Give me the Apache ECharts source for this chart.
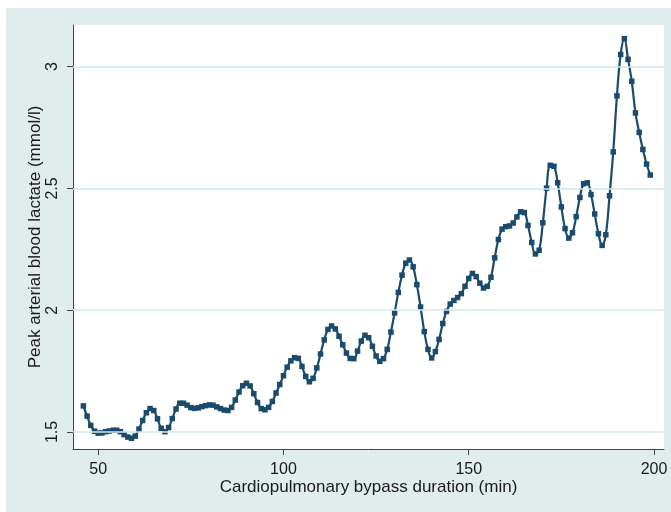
<!DOCTYPE html>
<html>
<head>
<meta charset="utf-8">
<script src="https://cdn.jsdelivr.net/npm/echarts@6/dist/echarts.min.js"></script>
<style>
  html, body { margin: 0; padding: 0; background: #ffffff; width: 671px; height: 512px; overflow: hidden; }
  #chart { position: absolute; left: 6px; top: 8px; width: 665px; height: 504px; }
</style>
</head>
<body>
<div id="chart"></div>
<script>
// Cardiopulmonary bypass duration (min)
const duration = [
  46, 47, 48, 49, 50, 51, 52, 53, 54, 55, 56, 57, 58, 59, 60, 61, 62, 63, 64, 65,
  66, 67, 68, 69, 70, 71, 72, 73, 74, 75, 76, 77, 78, 79, 80, 81, 82, 83, 84, 85,
  86, 87, 88, 89, 90, 91, 92, 93, 94, 95, 96, 97, 98, 99, 100, 101, 102, 103, 104, 105,
  106, 107, 108, 109, 110, 111, 112, 113, 114, 115, 116, 117, 118, 119, 120, 121, 122, 123, 124, 125,
  126, 127, 128, 129, 130, 131, 132, 133, 134, 135, 136, 137, 138, 139, 140, 141, 142, 143, 144, 145,
  146, 147, 148, 149, 150, 151, 152, 153, 154, 155, 156, 157, 158, 159, 160, 161, 162, 163, 164, 165,
  166, 167, 168, 169, 170, 171, 172, 173, 174, 175, 176, 177, 178, 179, 180, 181, 182, 183, 184, 185,
  186, 187, 188, 189, 190, 191, 192, 193, 194, 195, 196, 197, 198, 199
];
// Peak arterial blood lactate (mmol/l)
const lactate = [
  1.607, 1.565, 1.527, 1.503, 1.495, 1.496, 1.501, 1.504, 1.507, 1.507, 1.501, 1.489, 1.479, 1.474, 1.483, 1.512, 1.547, 1.579, 1.596, 1.588,
  1.554, 1.515, 1.501, 1.518, 1.555, 1.594, 1.618, 1.618, 1.610, 1.600, 1.597, 1.599, 1.604, 1.608, 1.611, 1.610, 1.603, 1.596, 1.590, 1.588,
  1.601, 1.631, 1.664, 1.690, 1.700, 1.689, 1.657, 1.621, 1.596, 1.591, 1.601, 1.625, 1.660, 1.695, 1.731, 1.766, 1.792, 1.805, 1.802, 1.769,
  1.728, 1.706, 1.720, 1.763, 1.820, 1.878, 1.921, 1.935, 1.923, 1.893, 1.858, 1.824, 1.802, 1.801, 1.832, 1.873, 1.897, 1.887, 1.852, 1.812,
  1.790, 1.801, 1.839, 1.910, 1.989, 2.073, 2.144, 2.193, 2.206, 2.178, 2.105, 2.013, 1.912, 1.839, 1.804, 1.830, 1.880, 1.945, 1.995, 2.025,
  2.040, 2.052, 2.068, 2.098, 2.130, 2.151, 2.138, 2.111, 2.091, 2.098, 2.135, 2.215, 2.290, 2.333, 2.343, 2.346, 2.358, 2.383, 2.404, 2.401,
  2.348, 2.278, 2.231, 2.246, 2.359, 2.501, 2.595, 2.591, 2.523, 2.424, 2.335, 2.296, 2.318, 2.384, 2.463, 2.519, 2.523, 2.475, 2.395, 2.314,
  2.266, 2.310, 2.470, 2.650, 2.880, 3.050, 3.115, 3.030, 2.940, 2.810, 2.730, 2.660, 2.600, 2.555
];
const xTicks = [50, 100, 150, 200];
const yTicks = [1.5, 2, 2.5, 3];
const xTitle = 'Cardiopulmonary bypass duration (min)';
const yTitle = 'Peak arterial blood lactate (mmol/l)';

const points = duration.map((d, i) => [d, lactate[i]]);
const FONT = '"Liberation Sans", Arial, Helvetica, sans-serif';

const chart = echarts.init(document.getElementById('chart'), null, { renderer: 'canvas' });
chart.setOption({
  backgroundColor: '#e0eded',
  animation: false,
  grid: {
    left: 67, right: 7, top: 17, bottom: 63,
    show: true, backgroundColor: '#ffffff', borderWidth: 0
  },
  xAxis: {
    type: 'value',
    min: 43.2, max: 202.7,
    name: xTitle,
    nameLocation: 'middle',
    nameGap: 30,
    nameMoveOverlap: false,
    nameTextStyle: { fontFamily: FONT, fontSize: 17, color: '#1a1a1a' },
    axisLine: { show: true, onZero: false, lineStyle: { color: '#444', width: 1 } },
    axisTick: { show: true, length: 6, lineStyle: { color: '#444' }, customValues: xTicks },
    axisLabel: { fontFamily: FONT, fontSize: 16, color: '#1a1a1a', margin: 13, customValues: xTicks },
    splitLine: { show: false }
  },
  yAxis: {
    type: 'value',
    min: 1.43, max: 3.171,
    name: yTitle,
    nameLocation: 'middle',
    nameGap: 29,
    nameMoveOverlap: false,
    nameTextStyle: { fontFamily: FONT, fontSize: 17, color: '#1a1a1a' },
    axisLine: { show: true, onZero: false, lineStyle: { color: '#444', width: 1 } },
    axisTick: { show: true, length: 6, lineStyle: { color: '#444' }, customValues: yTicks },
    axisLabel: { fontFamily: FONT, fontSize: 16, color: '#1a1a1a', margin: 12, rotate: 90, customValues: yTicks },
    splitLine: { show: false }
  },
  series: [
    {
      type: 'line',
      data: [],
      silent: true,
      z: 1,
      markLine: {
        silent: true,
        symbol: ['none', 'none'],
        label: { show: false },
        lineStyle: { color: '#d3e8ea', width: 1.5, type: 'solid' },
        data: yTicks.map(v => ({ yAxis: v }))
      }
    },
    {
      type: 'line',
      data: points,
      z: 3,
      smooth: 0.4,
      symbol: 'rect',
      symbolSize: 5.5,
      showAllSymbol: true,
      itemStyle: { color: '#1a4b6d' },
      lineStyle: { color: '#1a4b6d', width: 2.2 }
    }
  ]
});
</script>
</body>
</html>
